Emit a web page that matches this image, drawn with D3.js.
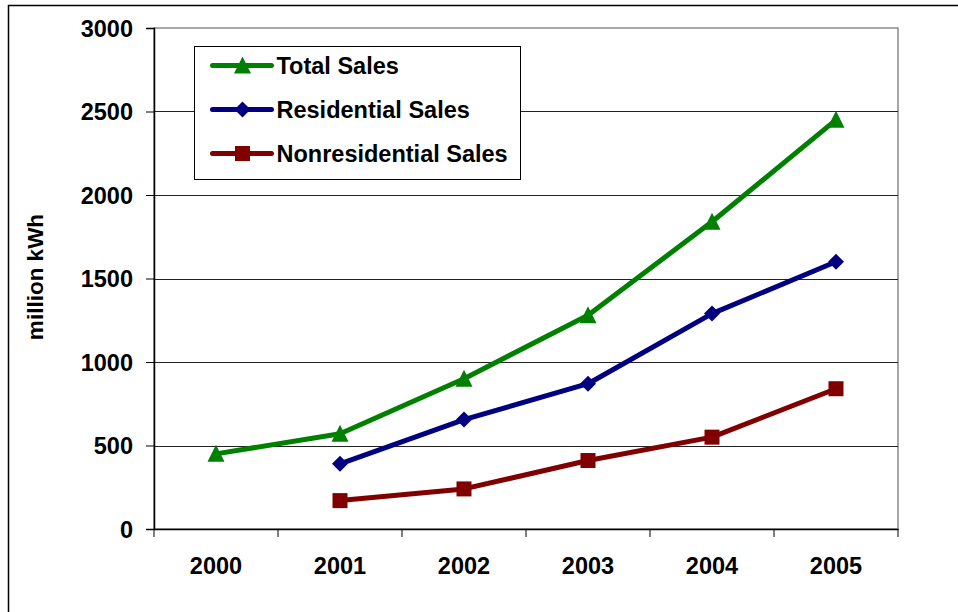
<!DOCTYPE html>
<html>
<head>
<meta charset="utf-8">
<script src="https://cdn.jsdelivr.net/npm/d3@7"></script>
<style>
  body { margin: 0; background: #fff; }
  svg text { font-family: Arial, "Liberation Sans", sans-serif; font-weight: bold; fill: #000; }
</style>
</head>
<body>
<div id="chart"></div>
<script>
// chart data
var years = ["2000", "2001", "2002", "2003", "2004", "2005"];
var totalSales = [450, 570, 900, 1280, 1840, 2450];
var residentialSales = [null, 390, 655, 870, 1290, 1600];
var nonresidentialSales = [null, 170, 240, 410, 550, 840];
var yTicks = [0, 500, 1000, 1500, 2000, 2500, 3000];
var seriesNames = ["Total Sales", "Residential Sales", "Nonresidential Sales"];

var W = 958, H = 612;
var plot = {left: 154, top: 28, right: 898, bottom: 529};
var fontSize = "23.5px";

var svg = d3.select("#chart").append("svg")
  .attr("width", W)
  .attr("height", H);

// outer chart frame (runs off the right and bottom)
svg.append("rect")
  .attr("x", 8.5).attr("y", 5.5)
  .attr("width", W + 20).attr("height", H + 20)
  .attr("fill", "#fff")
  .attr("stroke", "#000")
  .attr("stroke-width", 1.5);

var x = d3.scaleBand().domain(years).range([plot.left, plot.right]).padding(0);
var y = d3.scaleLinear().domain([0, 3000]).range([plot.bottom, plot.top]);

// plot border
svg.append("rect")
  .attr("x", plot.left).attr("y", plot.top)
  .attr("width", plot.right - plot.left).attr("height", plot.bottom - plot.top)
  .attr("fill", "#fff")
  .attr("stroke", "#8a8a8a")
  .attr("stroke-width", 1.5);

// horizontal gridlines
svg.append("g")
  .selectAll("line")
  .data(yTicks.filter(function(d) { return d > 0 && d < 3000; }))
  .enter()
  .append("line")
    .attr("x1", plot.left).attr("x2", plot.right)
    .attr("y1", function(d) { return Math.round(y(d)) + 0.5; })
    .attr("y2", function(d) { return Math.round(y(d)) + 0.5; })
    .attr("stroke", "#222")
    .attr("stroke-width", 1.2);

// y axis
var yAxis = svg.append("g")
  .attr("transform", "translate(" + plot.left + ",0)")
  .call(d3.axisLeft(y).tickValues(yTicks).tickSize(8).tickPadding(13).tickFormat(d3.format("d")));
yAxis.selectAll("text").style("font-size", fontSize).attr("dy", "0.36em");

// x axis, ticks on the category boundaries
var xAxis = svg.append("g")
  .attr("transform", "translate(0," + plot.bottom + ")")
  .call(d3.axisBottom(x).tickSize(0).tickPadding(28));
xAxis.selectAll("text").style("font-size", fontSize);
xAxis.append("g")
  .selectAll("line")
  .data(years.concat(["end"]))
  .enter()
  .append("line")
    .attr("x1", function(d, i) { return plot.left + i * x.bandwidth(); })
    .attr("x2", function(d, i) { return plot.left + i * x.bandwidth(); })
    .attr("y1", 0).attr("y2", 8)
    .attr("stroke", "#000");

svg.selectAll(".domain").attr("stroke", "#000").attr("stroke-width", 1.5);
svg.selectAll(".tick line").attr("stroke", "#000");

// y axis title
svg.append("text")
  .attr("transform", "translate(43,277) rotate(-90)")
  .attr("text-anchor", "middle")
  .style("font-size", "22.5px")
  .text("million kWh");

// series
var series = [
  {name: seriesNames[0], values: totalSales, color: "#008000", shape: "triangle"},
  {name: seriesNames[1], values: residentialSales, color: "#000080", shape: "diamond"},
  {name: seriesNames[2], values: nonresidentialSales, color: "#800000", shape: "square"}
];

function markerPath(shape) {
  if (shape == "triangle") return "M0,-9L8.5,8L-8.5,8Z";
  if (shape == "diamond") return "M0,-8L8,0L0,8L-8,0Z";
  return "M-7.5,-7.5H7.5V7.5H-7.5Z";
}

var line = d3.line()
  .defined(function(d) { return d != null; })
  .x(function(d, i) { return x(years[i]) + x.bandwidth() / 2; })
  .y(function(d) { return y(d); });

series.forEach(function(s) {
  svg.append("path")
    .attr("d", line(s.values))
    .attr("fill", "none")
    .attr("stroke", s.color)
    .attr("stroke-width", 5)
    .attr("stroke-linejoin", "round");

  svg.append("g")
    .selectAll("path")
    .data(s.values.map(function(v, i) { return {v: v, year: years[i]}; }).filter(function(d) { return d.v != null; }))
    .enter()
    .append("path")
      .attr("transform", function(d) { return "translate(" + (x(d.year) + x.bandwidth() / 2) + "," + y(d.v) + ")"; })
      .attr("d", markerPath(s.shape))
      .attr("fill", s.color);
});

// legend
var legend = svg.append("g").attr("transform", "translate(194.5,46.5)");
legend.append("rect")
  .attr("width", 326).attr("height", 133)
  .attr("fill", "#fff")
  .attr("stroke", "#000")
  .attr("stroke-width", 1);

var item = legend.selectAll(".item")
  .data(series)
  .enter()
  .append("g")
    .attr("class", "item")
    .attr("transform", function(d, i) { return "translate(0," + (19 + i * 44) + ")"; });

item.append("line")
  .attr("x1", 18).attr("x2", 77)
  .attr("stroke", function(d) { return d.color; })
  .attr("stroke-width", 5)
  .attr("stroke-linecap", "round");

item.append("path")
  .attr("transform", "translate(48,0)")
  .attr("d", function(d) { return markerPath(d.shape); })
  .attr("fill", function(d) { return d.color; });

item.append("text")
  .attr("x", 82)
  .attr("dy", "0.36em")
  .style("font-size", fontSize)
  .text(function(d) { return d.name; });
</script>
</body>
</html>
